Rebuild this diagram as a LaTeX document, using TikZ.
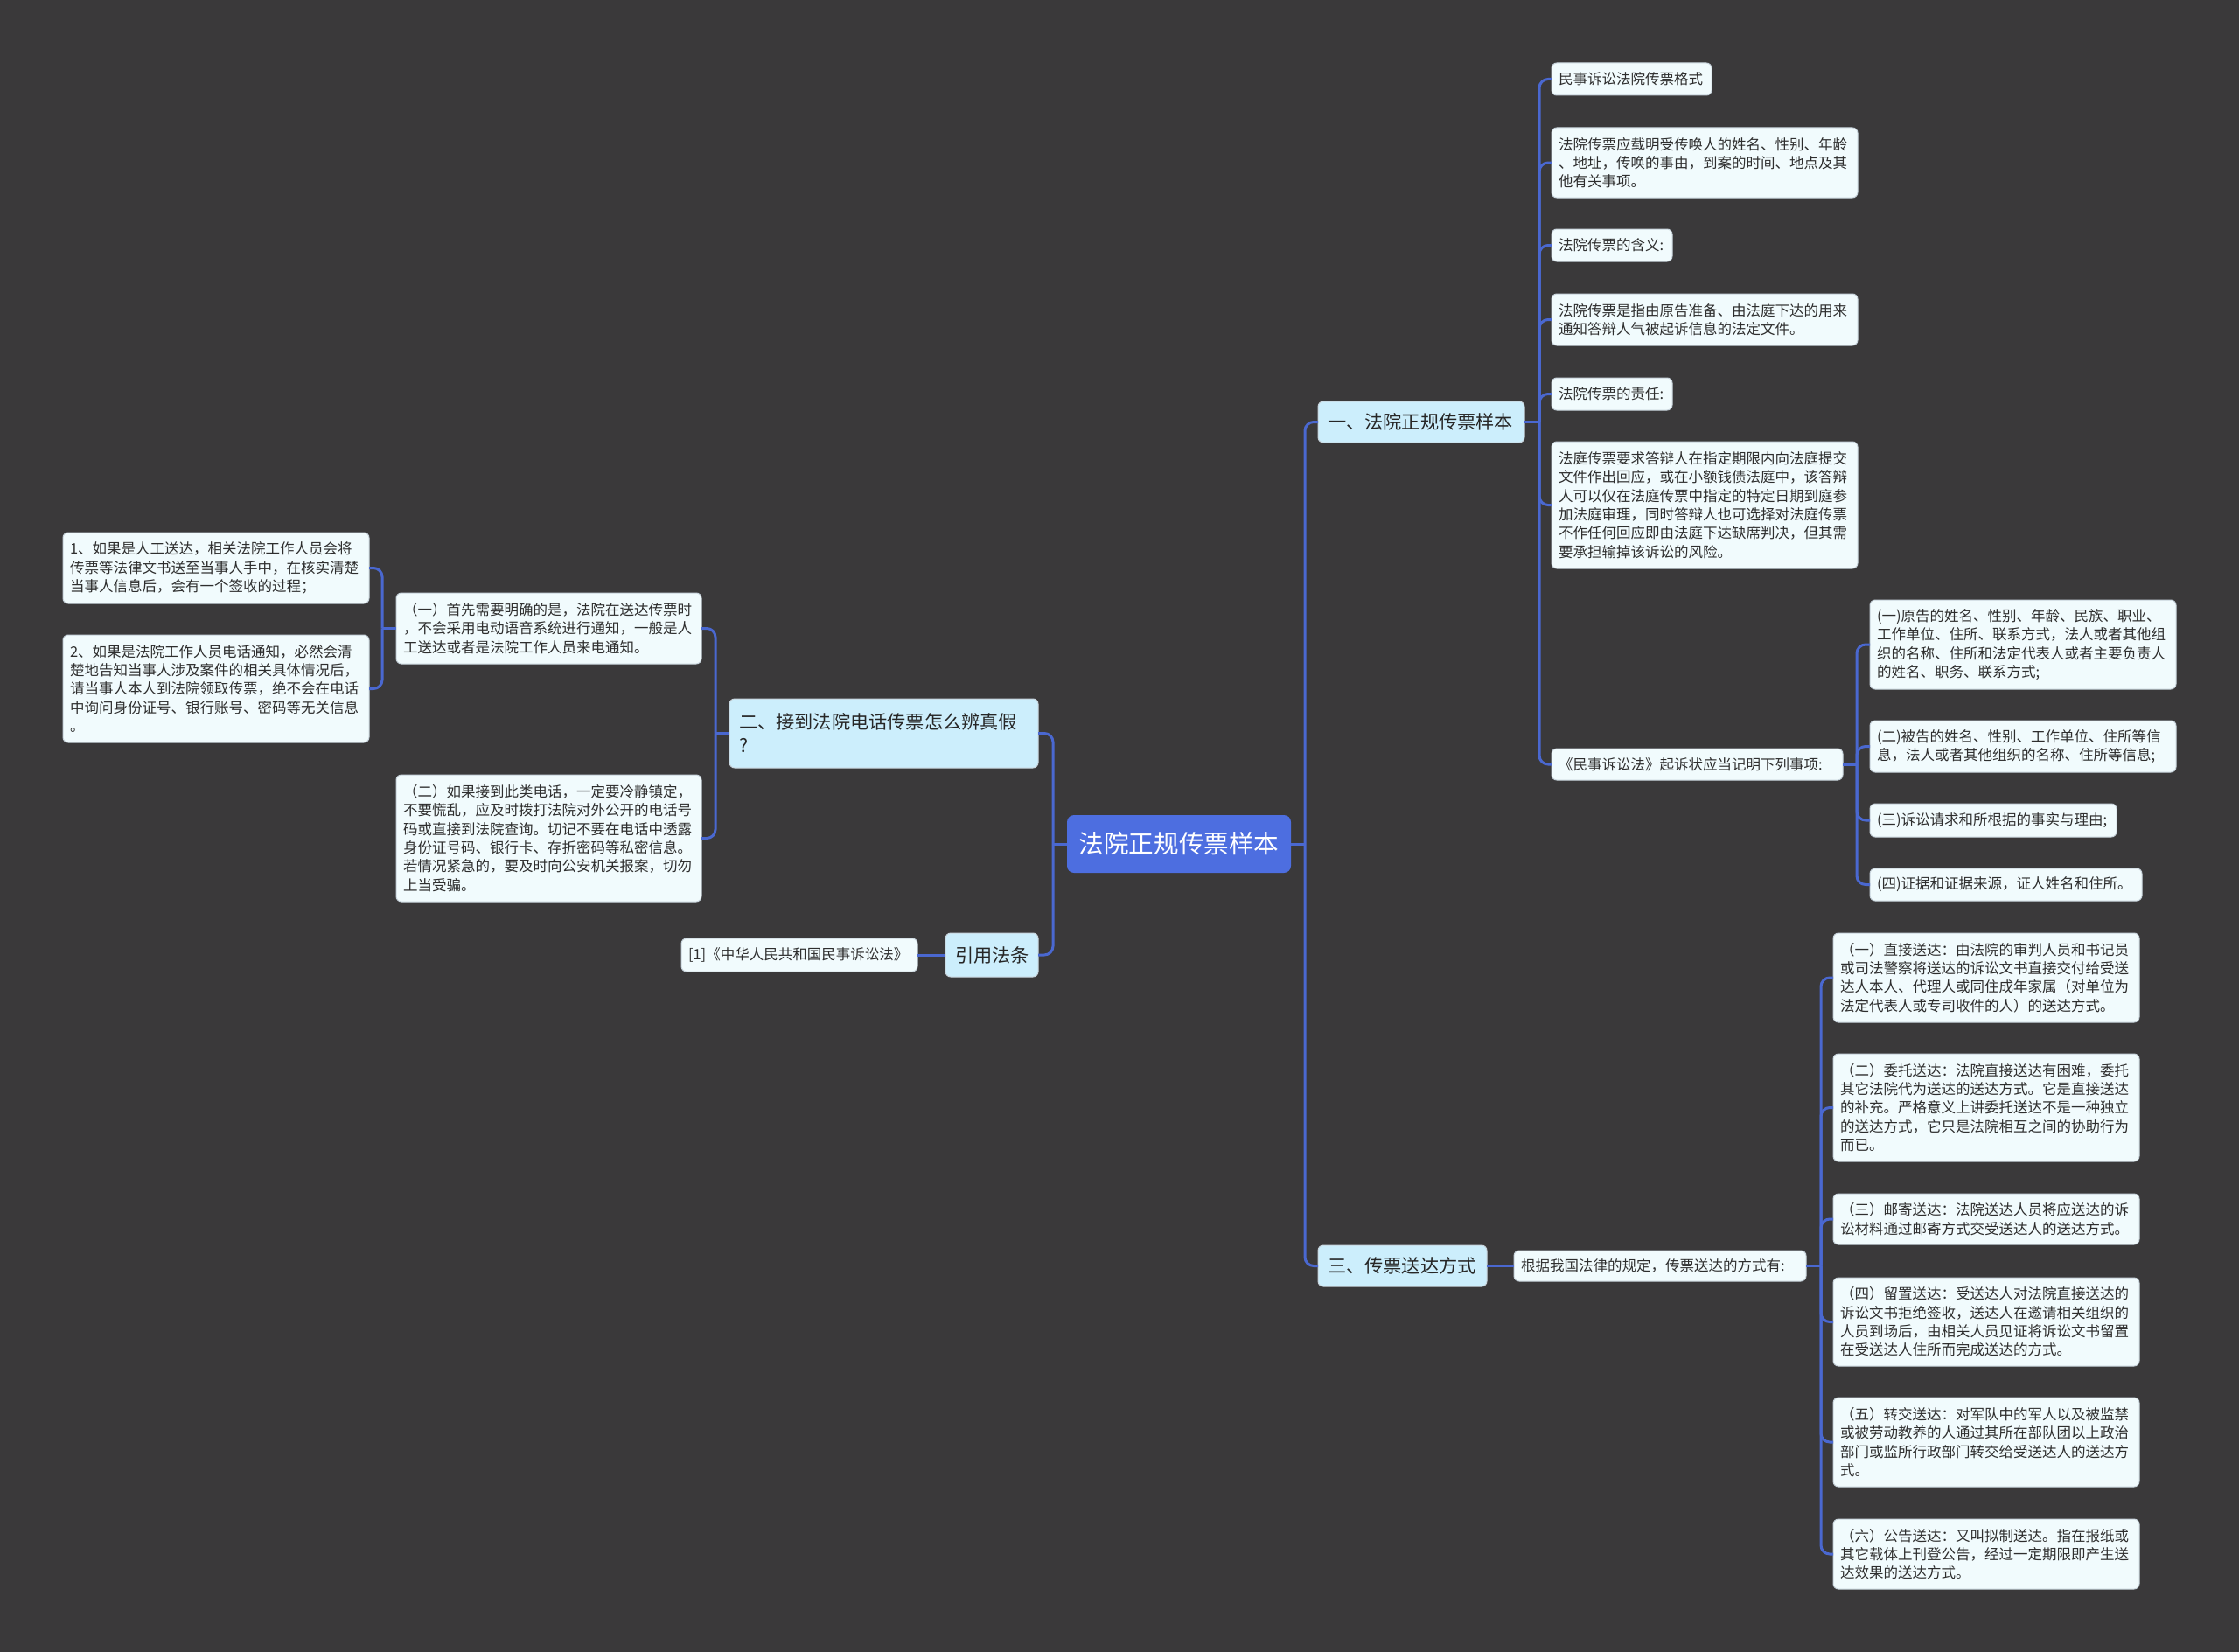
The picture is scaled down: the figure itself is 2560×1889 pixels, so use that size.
\documentclass[tikz,border=0pt]{standalone}
\usepackage{fontspec}
\newfontfamily\cjk{Noto Sans CJK SC}
\definecolor{bg}{HTML}{3A393A}
\definecolor{linec}{HTML}{4A68D0}
\definecolor{leaffill}{HTML}{F1FBFD}
\definecolor{leafdraw}{HTML}{C8D4DC}
\definecolor{lvfill}{HTML}{CCEEFC}
\definecolor{rootfill}{HTML}{4D6EE0}
\definecolor{txt}{HTML}{2E2E2E}
\tikzset{
  leaf/.style={draw=leafdraw, line width=0.5pt, fill=leaffill, rounded corners=3pt, anchor=north west,
    align=left, inner xsep=4pt, inner ysep=1pt, outer sep=0pt, text=txt,
    font=\cjk\fontsize{8.25pt}{10.65pt}\selectfont},
  lvone/.style={draw=leafdraw, line width=0.5pt, fill=lvfill, rounded corners=3pt, anchor=north west,
    align=left, inner xsep=5.5pt, inner ysep=1pt, outer sep=0pt, text=black!85,
    font=\cjk\fontsize{10.6pt}{13.5pt}\selectfont},
  rootbox/.style={fill=rootfill, rounded corners=4pt, anchor=north west, align=center,
    inner sep=0pt, outer sep=0pt, text=white, font=\cjk\fontsize{14.3pt}{17pt}\selectfont},
  conn/.style={draw=linec, line width=1.5pt},
  rconn/.style={draw=linec, line width=1.5pt, rounded corners=5pt}
}
\begin{document}
\begin{tikzpicture}[x=0.5pt,y=-0.5pt]
\fill[bg] (0,0) rectangle (2560,1889);
\useasboundingbox (0,0) rectangle (2560,1889);

% root
\node[rootbox, minimum width=128pt, minimum height=33pt] (root) at (1220,932) {法院正规传票样本};

% level 1
\node[lvone, text width=107pt, minimum height=23.5pt] (L1) at (1507,459) {一、法院正规传票样本};
\node[lvone, text width=85.5pt, minimum height=23.5pt] (L3) at (1507,1424) {三、传票送达方式};
\node[lvone, text width=165.5pt, minimum height=39.5pt] (L2) at (834,799) {二、接到法院电话传票怎么辨真假\\?};
\node[lvone, text width=42pt, minimum height=25pt] (L4) at (1081,1067) {引用法条};

% branch one
\node[leaf, text width=83.5pt, minimum height=18.5pt] (a1) at (1774,72) {民事诉讼法院传票格式};
\node[leaf, text width=167pt, minimum height=40pt] (a2) at (1774,146) {法院传票应载明受传唤人的姓名、性别、年龄\\、地址，传唤的事由，到案的时间、地点及其\\他有关事项。};
\node[leaf, text width=61pt, minimum height=18.5pt] (a3) at (1774,262) {法院传票的含义:};
\node[leaf, text width=167pt, minimum height=29.5pt] (a4) at (1774,336) {法院传票是指由原告准备、由法庭下达的用来\\通知答辩人气被起诉信息的法定文件。};
\node[leaf, text width=61pt, minimum height=18.5pt] (a5) at (1774,432) {法院传票的责任:};
\node[leaf, text width=167pt, minimum height=72.5pt] (a6) at (1774,505) {法庭传票要求答辩人在指定期限内向法庭提交\\文件作出回应，或在小额钱债法庭中，该答辩\\人可以仅在法庭传票中指定的特定日期到庭参\\加法庭审理，同时答辩人也可选择对法庭传票\\不作任何回应即由法庭下达缺席判决，但其需\\要承担输掉该诉讼的风险。};
\node[leaf, text width=158.5pt, minimum height=18pt] (a7) at (1774,856) {《民事诉讼法》起诉状应当记明下列事项:};

\node[leaf, text width=167pt, minimum height=51pt] (b1) at (2138,686) {(一)原告的姓名、性别、年龄、民族、职业、\\工作单位、住所、联系方式，法人或者其他组\\织的名称、住所和法定代表人或者主要负责人\\的姓名、职务、联系方式;};
\node[leaf, text width=167pt, minimum height=29.5pt] (b2) at (2138,824) {(二)被告的姓名、性别、工作单位、住所等信\\息，法人或者其他组织的名称、住所等信息;};
\node[leaf, text width=133pt, minimum height=19pt] (b3) at (2138,919) {(三)诉讼请求和所根据的事实与理由;};
\node[leaf, text width=147.5pt, minimum height=18.5pt] (b4) at (2138,993) {(四)证据和证据来源，证人姓名和住所。};

% branch three
\node[leaf, text width=159pt, minimum height=17.5pt] (c1) at (1731,1430) {根据我国法律的规定，传票送达的方式有:};
\node[leaf, text width=167pt, minimum height=51pt] (d1) at (2096,1067) {（一）直接送达：由法院的审判人员和书记员\\或司法警察将送达的诉讼文书直接交付给受送\\达人本人、代理人或同住成年家属（对单位为\\法定代表人或专司收件的人）的送达方式。};
\node[leaf, text width=167pt, minimum height=61.5pt] (d2) at (2096,1205) {（二）委托送达：法院直接送达有困难，委托\\其它法院代为送达的送达方式。它是直接送达\\的补充。严格意义上讲委托送达不是一种独立\\的送达方式，它只是法院相互之间的协助行为\\而已。};
\node[leaf, text width=167pt, minimum height=29pt] (d3) at (2096,1365) {（三）邮寄送达：法院送达人员将应送达的诉\\讼材料通过邮寄方式交受送达人的送达方式。};
\node[leaf, text width=167pt, minimum height=50.5pt] (d4) at (2096,1461) {（四）留置送达：受送达人对法院直接送达的\\诉讼文书拒绝签收，送达人在邀请相关组织的\\人员到场后，由相关人员见证将诉讼文书留置\\在受送达人住所而完成送达的方式。};
\node[leaf, text width=167pt, minimum height=51pt] (d5) at (2096,1598) {（五）转交送达：对军队中的军人以及被监禁\\或被劳动教养的人通过其所在部队团以上政治\\部门或监所行政部门转交给受送达人的送达方\\式。};
\node[leaf, text width=167pt, minimum height=40pt] (d6) at (2096,1737) {（六）公告送达：又叫拟制送达。指在报纸或\\其它载体上刊登公告，经过一定期限即产生送\\达效果的送达方式。};

% branch two
\node[leaf, text width=166.5pt, minimum height=40.5pt] (e1) at (453,678) {（一）首先需要明确的是，法院在送达传票时\\，不会采用电动语音系统进行通知，一般是人\\工送达或者是法院工作人员来电通知。};
\node[leaf, text width=166.5pt, minimum height=72.5pt] (e2) at (453,886) {（二）如果接到此类电话，一定要冷静镇定，\\不要慌乱，应及时拨打法院对外公开的电话号\\码或直接到法院查询。切记不要在电话中透露\\身份证号码、银行卡、存折密码等私密信息。\\若情况紧急的，要及时向公安机关报案，切勿\\上当受骗。};
\node[leaf, text width=167pt, minimum height=40.5pt] (f1) at (72,609) {1、如果是人工送达，相关法院工作人员会将\\传票等法律文书送至当事人手中，在核实清楚\\当事人信息后，会有一个签收的过程；};
\node[leaf, text width=167pt, minimum height=61.5pt] (f2) at (72,726) {2、如果是法院工作人员电话通知，必然会清\\楚地告知当事人涉及案件的相关具体情况后，\\请当事人本人到法院领取传票，绝不会在电话\\中询问身份证号、银行账号、密码等无关信息\\。};

% branch four
\node[leaf, text width=127pt, minimum height=19pt] (g1) at (779,1073) {[1]《中华人民共和国民事诉讼法》};

% trunks
\coordinate (tR) at (1492,0);
\coordinate (tL) at (1204,0);
\coordinate (t1) at (1760,0);
\coordinate (t7) at (2123,0);
\coordinate (t3) at (2082,0);
\coordinate (t2) at (818,0);
\coordinate (te) at (437,0);

% root connectors
\draw[conn] (root.east) -- (root.east -| tR);
\draw[rconn] (root.east -| tR) |- (L1.west);
\draw[rconn] (root.east -| tR) |- (L3.west);
\draw[conn] (root.west) -- (root.west -| tL);
\draw[rconn] (root.west -| tL) |- (L2.east);
\draw[rconn] (root.west -| tL) |- (L4.east);

% branch one connectors
\draw[conn] (L1.east) -- (L1.east -| t1);
\foreach \n in {a1,a2,a3,a4,a5,a6,a7} {
  \draw[rconn] (L1.east -| t1) |- (\n.west);
}
\draw[conn] (a7.east) -- (a7.east -| t7);
\foreach \n in {b1,b2,b3,b4} {
  \draw[rconn] (a7.east -| t7) |- (\n.west);
}

% branch three connectors
\draw[conn] (L3.east) -- (c1.west);
\draw[conn] (c1.east) -- (c1.east -| t3);
\foreach \n in {d1,d2,d3,d4,d5,d6} {
  \draw[rconn] (c1.east -| t3) |- (\n.west);
}

% branch two connectors
\draw[conn] (L2.west) -- (L2.west -| t2);
\draw[rconn] (L2.west -| t2) |- (e1.east);
\draw[rconn] (L2.west -| t2) |- (e2.east);
\draw[conn] (e1.west) -- (e1.west -| te);
\draw[rconn] (e1.west -| te) |- (f1.east);
\draw[rconn] (e1.west -| te) |- (f2.east);

% branch four connector
\draw[conn] (L4.west) -- (g1.east);
\end{tikzpicture}
\end{document}
